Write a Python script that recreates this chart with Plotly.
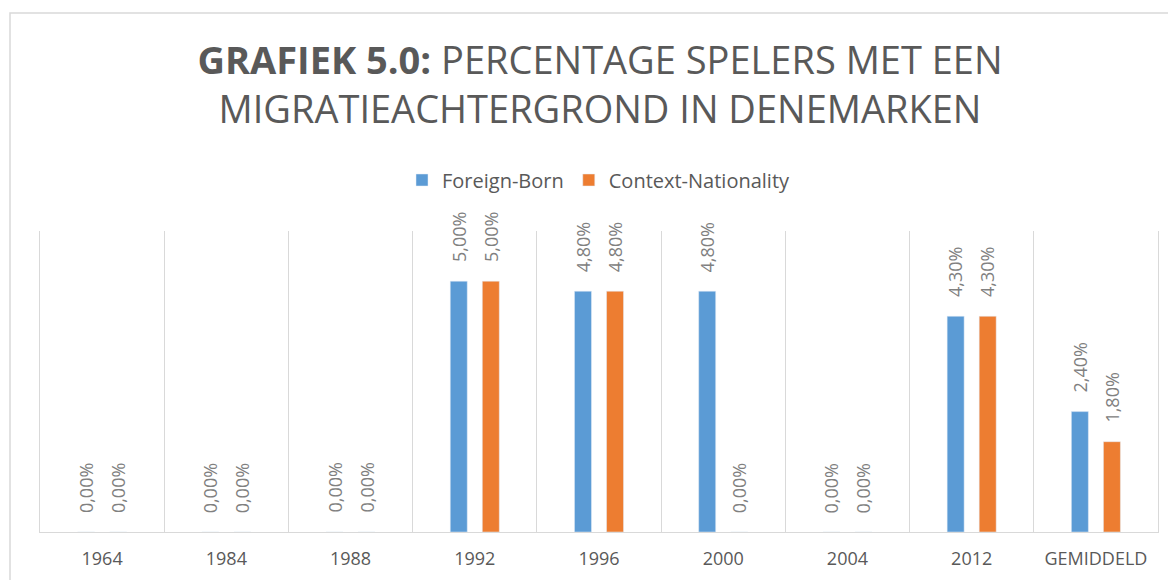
import plotly.graph_objects as go

categories = ["1964", "1984", "1988", "1992", "1996", "2000", "2004", "2012", "GEMIDDELD"]
foreign_born = [0.0, 0.0, 0.0, 5.0, 4.8, 4.8, 0.0, 4.3, 2.4]
context_nationality = [0.0, 0.0, 0.0, 5.0, 4.8, 0.0, 0.0, 4.3, 1.8]
series_names = ["Foreign-Born", "Context-Nationality"]
series_colors = ["#5B9BD5", "#ED7D31"]
title_bold = "GRAFIEK 5.0:"
title_rest = " PERCENTAGE SPELERS MET EEN<br>MIGRATIEACHTERGROND IN DENEMARKEN"

# page body has an 8px margin; positions below are in figure coordinates
W, H = 1176, 580
L, R, T, B = 32, 26, 223, 56
pw, ph = W - L - R, H - T - B

label_font = dict(family="Open Sans", size=18, color="#808080")

fig = go.Figure()
annotations = []
for i, (name, vals, col) in enumerate(zip(series_names, [foreign_born, context_nationality], series_colors)):
    fig.add_trace(go.Bar(x=categories, y=vals, name=name, marker_color=col))
    for k, v in enumerate(vals):
        annotations.append(dict(
            x=k, y=v, xref="x", yref="y", text=f"{v:.2f}%".replace(".", ","),
            showarrow=False, textangle=-90, xanchor="center", yanchor="bottom",
            xshift=(-16 if i == 0 else 16), yshift=17, font=label_font,
        ))

fig.update_layout(
    width=W, height=H,
    margin=dict(l=L, r=R, t=T, b=B, autoexpand=False),
    paper_bgcolor="white", plot_bgcolor="white",
    barmode="group", bargap=0.484, bargroupgap=0.47,
    title=dict(
        text=f"<b>{title_bold}</b>{title_rest}",
        x=592 / W, xref="container", xanchor="center",
        y=1 - 66 / H, yref="container", yanchor="middle",
        font=dict(family="Open Sans", size=38, color="#595959"),
    ),
    legend=dict(
        orientation="h", x=591 / W, xref="container", xanchor="center",
        y=1 - 172 / H, yref="container", yanchor="middle",
        font=dict(family="Open Sans", size=20, color="#595959"),
    ),
    xaxis=dict(
        type="category", range=[-0.5, len(categories) - 0.5],
        tickson="boundaries", showgrid=True, gridcolor="#d9d9d9",
        showline=True, linecolor="#d9d9d9", ticks="", ticklabelstandoff=10,
        tickangle=0, automargin=False,
        tickfont=dict(family="Open Sans", size=18, color="#595959"),
    ),
    yaxis=dict(
        range=[0, 6], showticklabels=False, showgrid=False, zeroline=False,
        showline=True, mirror=True, linecolor="#d9d9d9", ticks="",
    ),
    annotations=annotations,
    shapes=[dict(
        type="rect", xref="paper", yref="paper",
        x0=(2 - L) / pw, x1=(W + 20 - L) / pw,
        y0=-(H + 20 - (H - B)) / ph, y1=(H - B - 5) / ph,
        line=dict(color="#d9d9d9", width=1.5), fillcolor="rgba(0,0,0,0)", layer="below",
    )],
)

fig.write_html("out.html")
